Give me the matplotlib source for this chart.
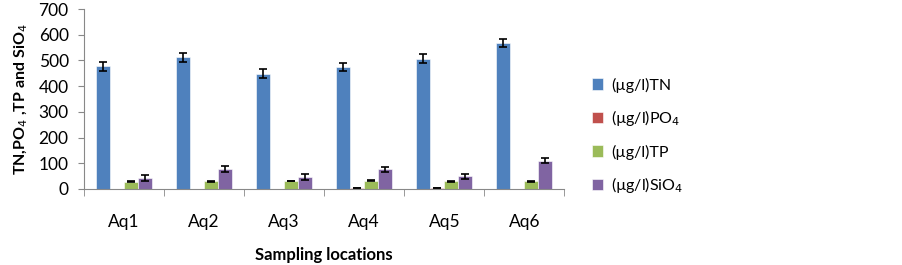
import numpy as np
import matplotlib
matplotlib.use("Agg")
import matplotlib.pyplot as plt

plt.rcParams['font.family'] = ['Lato', 'DejaVu Sans']

# Data
locations = ['Aq1', 'Aq2', 'Aq3', 'Aq4', 'Aq5', 'Aq6']
tn = [477, 512, 449, 475, 507, 568]
tn_err = [17, 17, 17, 16, 17, 16]
po4 = [0.5, 0.5, 1.5, 3, 2.5, 1]
po4_err = [0, 0, 0, 0.5, 0.5, 0]
tp = [28, 30, 31, 32, 29, 30]
tp_err = [1.5, 1.5, 1.5, 1.5, 1.5, 1.5]
sio4 = [42, 78, 46, 77, 50, 109]
sio4_err = [12, 11, 12, 10, 10, 10]

labels = ['(µg/l)TN', '(µg/l)PO$_4$', '(µg/l)TP', '(µg/l)SiO$_4$']
colors = ['#4F81BD', '#C0504D', '#9BBB59', '#8064A2']
series = [(tn, tn_err), (po4, po4_err), (tp, tp_err), (sio4, sio4_err)]

fig = plt.figure(figsize=(9.03, 2.65), dpi=100)
ax = fig.add_axes([0.093, 0.287, 0.532, 0.679])

x = np.arange(len(locations))
w = 0.175
for i, ((vals, errs), lab, col) in enumerate(zip(series, labels, colors)):
    pos = x + (i - 1.5) * w
    ax.bar(pos, vals, width=w, color=col, edgecolor='white', linewidth=0.4, label=lab)
    vals = np.array(vals)
    errs = np.array(errs)
    keep = errs > 0
    ax.errorbar(pos[keep], vals[keep], yerr=errs[keep], fmt='none', ecolor='black',
                elinewidth=1.2, capsize=3, capthick=1.2)

ax.set_xlim(-0.5, len(locations) - 0.5)
ax.set_ylim(0, 700)
ax.set_yticks(range(0, 701, 100))
ax.set_xticks(x)
ax.set_xticklabels(locations)
ax.set_xticks(np.arange(-0.5, len(locations), 1), minor=True)
ax.tick_params(axis='x', which='major', length=0, pad=18, labelsize=12.5)
ax.tick_params(axis='x', which='minor', length=5, color='#888888')
ax.tick_params(axis='y', length=4, pad=7, color='#888888', labelsize=12.5)

for s in ['top', 'right']:
    ax.spines[s].set_visible(False)
for s in ['left', 'bottom']:
    ax.spines[s].set_color('#888888')

ax.set_xlabel('Sampling locations', fontsize=12, fontweight='bold', labelpad=12)
ax.set_ylabel('TN,PO$_4$ ,TP and SiO$_4$', fontsize=11.5, fontweight='bold', labelpad=6)

fig.legend(loc='center left', bbox_to_anchor=(0.64, 0.485), frameon=False,
           fontsize=11.5, handlelength=0.7, handleheight=0.7, labelspacing=1.0,
           handletextpad=0.5)

plt.savefig('out.png', dpi=100)
